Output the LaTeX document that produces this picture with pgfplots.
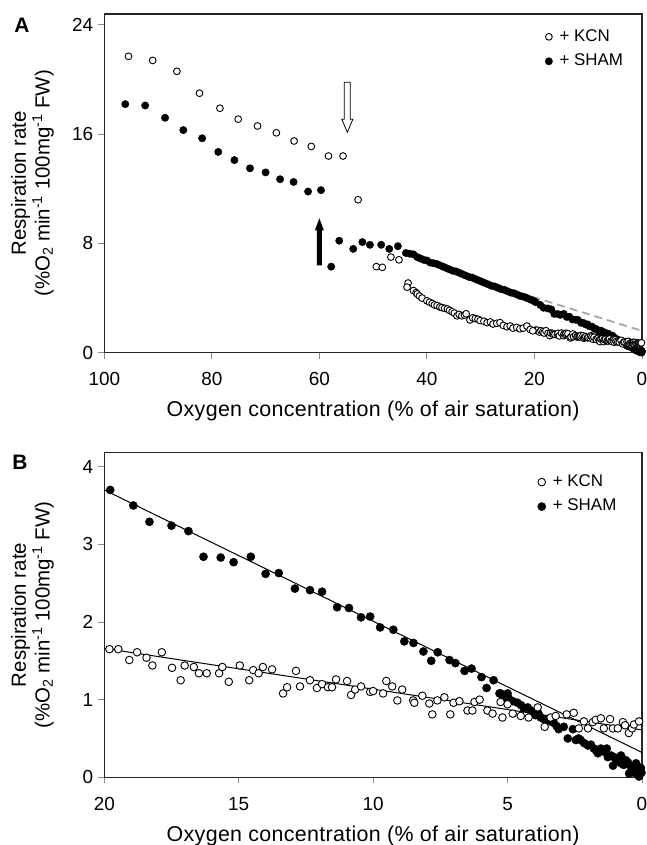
\documentclass[border=0pt]{standalone}
\usepackage{fontspec}
\setmainfont{Liberation Sans}
\newfontfamily\xlabfont[LetterSpace=1.5]{Liberation Sans}
\usepackage{pgfplots}
\usepackage{pgfplotstable}
\pgfplotsset{compat=1.18}

% panel A, oxygen above 20 %
\pgfplotstableread{
x y
95.5 21.7
91.0 21.4
86.5 20.6
82.3 19.0
78.5 17.9
75.1 17.1
71.5 16.6
68.0 16.1
64.7 15.5
61.5 15.1
58.3 14.4
55.6 14.4
52.8 11.2
49.4 6.3
48.3 6.25
46.7 7.0
45.2 6.8
43.5 5.1
43.7 4.8
42.5 4.55
42.0 4.4
41.8 4.3
41.4 4.15
40.9 4.0
40.0 3.8
39.5 3.7
39.0 3.6
38.6 3.5
38.1 3.45
37.6 3.35
37.2 3.3
36.7 3.25
36.2 3.2
35.8 3.1
35.3 3.0
34.9 2.9
34.4 2.7
34.0 2.8
33.5 2.7
33.0 2.75
32.7 2.85
32.0 2.4
31.5 2.55
31.0 2.5
30.5 2.45
30.1 2.35
29.4 2.3
28.8 2.2
28.2 2.25
27.7 2.1
27.0 2.15
26.4 2.2
25.8 2.0
25.1 1.9
24.5 1.95
24.0 1.8
23.3 1.85
22.7 1.75
22.1 1.8
21.4 1.95
20.8 1.7
20.3 1.6
}\kcnA

\pgfplotstableread{
x y
96.1 18.2
92.4 18.1
88.7 17.2
85.3 16.3
81.8 15.7
78.8 14.7
75.8 14.1
72.9 13.5
70.0 13.2
67.3 12.7
64.8 12.5
62.1 11.8
59.7 11.9
57.8 6.3
56.3 8.2
53.7 7.6
52.0 8.1
50.6 7.9
48.5 7.9
47.0 7.6
45.4 7.8
43.9 7.3
43.2 7.25
42.5 7.2
41.8 7.0
41.2 6.9
40.6 6.8
40.0 6.75
39.4 6.6
38.8 6.55
38.2 6.5
37.6 6.4
37.0 6.3
36.4 6.2
35.8 6.1
35.2 6.0
34.6 5.95
34.0 5.85
33.4 5.75
32.8 5.65
32.2 5.55
31.6 5.5
31.0 5.4
30.4 5.3
29.8 5.2
29.2 5.1
28.6 5.0
28.0 4.9
27.4 4.85
26.8 4.75
26.2 4.65
25.6 4.6
25.0 4.5
24.4 4.4
23.8 4.35
23.2 4.25
22.6 4.15
22.0 4.1
21.4 4.0
20.8 3.9
20.2 3.8
}\shamA

% oxygen below 20 % (panel B, also the tail of panel A)
\pgfplotstableread{
x y
19.81 1.65
19.48 1.65
19.07 1.51
18.78 1.61
18.43 1.54
18.21 1.44
17.86 1.61
17.48 1.41
17.16 1.25
17.01 1.44
16.67 1.42
16.48 1.34
16.19 1.34
15.73 1.34
15.61 1.42
15.37 1.23
14.96 1.44
14.61 1.25
14.46 1.38
14.26 1.34
14.10 1.42
13.76 1.39
13.35 1.08
13.20 1.16
12.87 1.37
12.72 1.17
12.35 1.25
12.09 1.15
11.90 1.20
11.68 1.16
11.53 1.16
11.38 1.26
10.97 1.24
10.82 1.06
10.67 1.13
10.45 1.17
10.11 1.10
10.00 1.11
9.63 1.08
9.51 1.24
9.29 1.17
9.10 0.99
8.92 1.13
8.51 0.99
8.47 0.96
8.17 1.05
7.91 0.95
7.80 0.81
7.61 0.99
7.35 1.03
7.13 0.81
7.01 0.96
6.79 0.98
6.49 0.86
6.31 0.86
6.23 0.97
6.04 1.00
5.75 0.86
5.56 0.82
5.26 0.97
5.19 0.77
5.00 0.94
4.81 0.82
4.51 0.79
4.22 0.77
3.88 0.90
3.62 0.65
3.40 0.77
3.21 0.79
2.80 0.81
2.54 0.83
2.35 0.63
2.16 0.72
2.01 0.63
1.83 0.71
1.72 0.74
1.53 0.76
1.42 0.63
1.19 0.75
1.08 0.63
0.90 0.63
0.71 0.71
0.63 0.67
0.49 0.57
0.37 0.63
0.30 0.68
0.11 0.72
}\kcnB

\pgfplotstableread{
x y
19.78 3.70
18.92 3.50
18.32 3.29
17.50 3.24
16.87 3.17
16.31 2.84
15.67 2.83
15.19 2.77
14.55 2.84
14.00 2.62
13.51 2.63
12.91 2.43
12.35 2.41
11.90 2.39
11.34 2.19
10.90 2.18
10.45 2.06
10.11 2.07
9.74 1.93
9.25 1.90
8.84 1.75
8.50 1.73
8.13 1.62
7.84 1.50
7.60 1.61
7.16 1.51
6.94 1.47
6.60 1.37
6.34 1.40
5.97 1.29
5.78 1.15
5.52 1.25
5.30 1.08
5.26 1.08
5.15 1.02
5.00 1.08
4.96 1.02
4.80 0.98
4.63 0.96
4.50 0.93
4.40 0.89
4.25 0.90
4.14 0.86
4.05 0.83
3.96 0.80
3.85 0.82
3.77 0.77
3.65 0.75
3.51 0.74
3.40 0.72
3.28 0.70
3.18 0.66
3.10 0.62
2.91 0.65
2.76 0.50
2.57 0.62
2.46 0.48
2.36 0.50
2.28 0.48
2.15 0.44
2.01 0.41
1.90 0.42
1.79 0.37
1.70 0.34
1.64 0.31
1.53 0.37
1.42 0.33
1.31 0.37
1.27 0.26
1.15 0.28
1.08 0.15
1.04 0.26
0.95 0.22
0.85 0.20
0.78 0.28
0.78 0.18
0.68 0.16
0.60 0.22
0.52 0.19
0.48 0.05
0.41 0.13
0.35 0.10
0.30 0.06
0.25 0.15
0.22 0.18
0.15 0.05
0.11 0.01
0.08 0.10
0.04 0.12
0.02 0.06
}\shamB

\newcommand{\ylab}{Respiration rate\\(\%O\textsubscript{2} min\textsuperscript{-1} 100mg\textsuperscript{-1} FW)}

\pgfplotsset{
  resp/.style={
    scale only axis,
    width=537.7bp,
    x dir=reverse,
    xmin=0, ymin=0,
    axis line style={black!85, line width=1.2bp},
    tick style={black!45, line width=0.9bp},
    major tick length=6bp,
    tick align=outside,
    tick pos=left,
    /pgf/number format/assume math mode=true,
    ticklabel style={font=\fontsize{19}{22}\selectfont},
    xticklabel style={anchor=base, yshift=-27bp},
    yticklabel style={anchor=east, inner sep=0pt, xshift=-5bp},
    xlabel={Oxygen concentration (\% of air saturation)},
    xlabel style={font=\xlabfont\fontsize{21.5}{25}\selectfont, anchor=base},
    ylabel=\ylab,
    ylabel style={font=\fontsize{20.5}{24}\selectfont, align=center, anchor=center},
    legend cell align=left,
    legend style={draw=none, fill=none, font=\fontsize{17}{20}\selectfont,
      anchor=north west, column sep=7bp, row sep=9bp,
      nodes={inner sep=0pt, text height=12bp, text depth=3.5bp}},
    legend image code/.code={\draw[#1] plot coordinates {(3bp,0bp)};},
    reverse legend,
  },
  kcn/.style={only marks, mark=*, mark size=3.4bp,
    mark options={fill=white, draw=black, line width=0.9bp}},
  sham/.style={only marks, mark=*, mark size=3.8bp,
    mark options={fill=black, draw=black}},
}

\begin{document}
\begin{tikzpicture}
\path[use as bounding box] (0,0) rectangle (647bp,845bp);

% ---------------- A
\begin{axis}[resp,
  at={(104.3bp,492.3bp)}, anchor=south west,
  height=338.7bp,
  xmax=100, ymax=24.8,
  xtick={0,20,...,100}, ytick={0,8,16,24},
  xlabel style={at={(axis description cs:0.5,-0.187)}},
  ylabel style={at={(axis description cs:-0.1335,0.5)}},
  legend style={at={(rel axis cs:0.814,0.962)}},
]
\addplot[gray!70, dashed, line width=1.8bp, dash pattern=on 8bp off 5bp, forget plot]
  coordinates {(20.4,4.1) (0,1.6)};
\addplot[sham, mark size=3.7bp] table {\shamA};
\addlegendentry{+ SHAM}
\addplot[sham, mark size=3.7bp, forget plot] table {\shamB};
\addplot[kcn, mark size=3.4bp, forget plot] table {\kcnB};
\addplot[kcn, mark size=3.4bp] table {\kcnA};
\addlegendentry{+ KCN}
% arrows
\draw[black, line width=0.8bp, fill=white] (axis cs:54.8,19.8) ++(-3bp,0)
  -- ++(0,-37bp) -- ++(-2.5bp,0) -- ++(5.5bp,-13bp) -- ++(5.5bp,13bp)
  -- ++(-2.5bp,0) -- ++(0,37bp) -- cycle;
\fill[black] (axis cs:60,6.4) ++(-2.5bp,0) -- ++(0,35bp) -- ++(-2bp,0)
  -- ++(4.5bp,12bp) -- ++(4.5bp,-12bp) -- ++(-2bp,0) -- ++(0,-35bp) -- cycle;
\end{axis}
\node[font=\bfseries\fontsize{21}{25}\selectfont] at (22bp,819.5bp) {A};

% ---------------- B
\begin{axis}[resp,
  at={(104.3bp,67.7bp)}, anchor=south west,
  height=324.6bp,
  xmax=20, ymax=4.18,
  xtick={0,5,...,20}, ytick={0,1,...,4},
  xlabel style={at={(axis description cs:0.5,-0.199)}},
  ylabel style={at={(axis description cs:-0.1335,0.5)}},
  legend style={at={(rel axis cs:0.800,0.940)}},
]
\addplot[sham, mark size=4.1bp] table {\shamB};
\addlegendentry{+ SHAM}
\addplot[kcn, mark size=3.8bp] table {\kcnB};
\addlegendentry{+ KCN}
\addplot[black, line width=1bp, forget plot] coordinates {(20,3.70) (0,0.32)};
\addplot[black, line width=1bp, forget plot] coordinates {(20,1.66) (0,0.61)};
\end{axis}
\node[font=\bfseries\fontsize{21}{25}\selectfont] at (20bp,382.5bp) {B};
\end{tikzpicture}
\end{document}
